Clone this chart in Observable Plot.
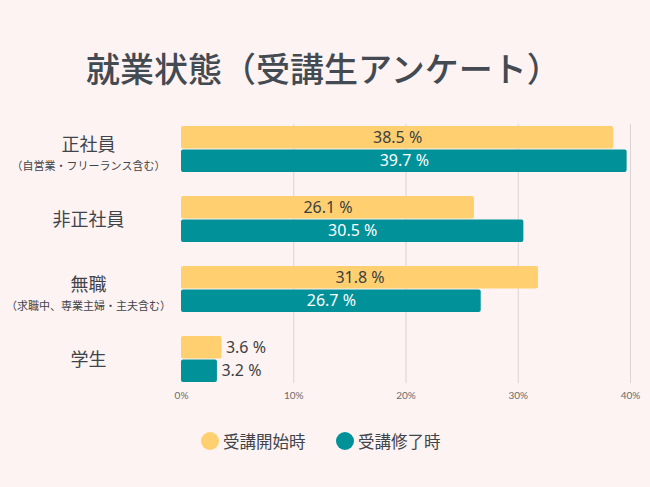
<!DOCTYPE html>
<html><head><meta charset="utf-8">
<script src="https://cdn.jsdelivr.net/npm/d3@7"></script>
<script src="https://cdn.jsdelivr.net/npm/@observablehq/plot@0.6"></script>
<style>
html,body{margin:0;padding:0;background:#fdf3f2;}
#wrap{position:relative;width:650px;height:487px;background:#fdf3f2;overflow:hidden;font-family:"Noto Sans CJK JP","Noto Sans",sans-serif;}
#title{position:absolute;left:86px;top:51px;line-height:34px;font-size:34px;font-weight:500;color:#434a51;white-space:nowrap;}
#chart{position:absolute;left:0;top:0;}
#legend{position:absolute;top:430px;left:0;width:650px;height:22px;}
.li{position:absolute;top:0;display:flex;align-items:center;font-size:16.5px;color:#3f444a;line-height:22px;}
.dot{width:18px;height:18px;border-radius:50%;margin-right:4px;}
g[aria-label="x-axis"] text, g[aria-label="x-axis tick label"] text{font-family:Lato,sans-serif;font-weight:400;font-size:10px;fill:#6a6a6a;}
</style></head>
<body>
<div id="wrap">
  <div id="title">就業状態（受講生アンケート）</div>
  <div id="chart"></div>
  <div id="legend"></div>
</div>
<script>
const categories = ["正社員", "非正社員", "無職", "学生"];
const subLabels = ["（自営業・フリーランス含む）", "", "（求職中、専業主婦・主夫含む）", ""];
const series = ["受講開始時", "受講修了時"];
const startValues = [38.5, 26.1, 31.8, 3.6];
const endValues = [39.7, 30.5, 26.7, 3.2];
const xTicks = [0, 10, 20, 30, 40];
const colors = ["#ffcf70", "#009199"];

const startData = categories.map((c, i) => ({category: c, value: startValues[i], series: series[0]}));
const endData = categories.map((c, i) => ({category: c, value: endValues[i], series: series[1]}));
const catData = categories.map((c, i) => ({category: c, sub: subLabels[i]}));
const withSub = catData.filter(d => d.sub);
const noSub = catData.filter(d => !d.sub);
const fmt = v => v.toFixed(1) + " %";
const valFont = {fontFamily: "Noto Sans, sans-serif", fontSize: 16};
const catFont = {fontFamily: "Noto Sans CJK JP, sans-serif", fill: "#3f444a"};

const half = 23;
const chart = Plot.plot({
  width: 650, height: 487,
  marginTop: 124, marginBottom: 104, marginLeft: 181, marginRight: 20,
  style: {background: "transparent", fontFamily: "Lato, sans-serif", fontSize: "10px"},
  x: {domain: [0, 40], ticks: xTicks, tickFormat: d => d + "%", tickSize: 0, tickPadding: 8, label: null},
  y: {domain: categories, paddingInner: 0.35, paddingOuter: 0, axis: null},
  marks: [
    Plot.ruleX(xTicks.slice(1), {stroke: "#d9d3d3", strokeWidth: 1}),
    Plot.barX(startData, {x: "value", y: "category", fill: colors[0], insetBottom: half + 0.5, rx: 2}),
    Plot.barX(endData, {x: "value", y: "category", fill: colors[1], insetTop: half + 0.5, rx: 2}),
    Plot.text(startData.filter(d => d.value >= 10), {x: d => d.value / 2, y: "category", text: d => fmt(d.value), dy: -11.5, fill: "#3d3f42", ...valFont}),
    Plot.text(endData.filter(d => d.value >= 10), {x: d => d.value / 2, y: "category", text: d => fmt(d.value), dy: 11.5, fill: "#ffffff", ...valFont}),
    Plot.text(startData.filter(d => d.value < 10), {x: "value", y: "category", text: d => fmt(d.value), dy: -11.5, dx: 4, textAnchor: "start", fill: "#3d3f42", ...valFont}),
    Plot.text(endData.filter(d => d.value < 10), {x: "value", y: "category", text: d => fmt(d.value), dy: 11.5, dx: 4, textAnchor: "start", fill: "#3d3f42", ...valFont}),
    Plot.text(withSub, {y: "category", text: "category", frameAnchor: "left", dx: -93, dy: -4, textAnchor: "middle", fontSize: 18, ...catFont}),
    Plot.text(withSub, {y: "category", text: "sub", frameAnchor: "left", dx: -93, dy: 17, textAnchor: "middle", fontSize: 11, ...catFont}),
    Plot.text(noSub, {y: "category", text: "category", frameAnchor: "left", dx: -93, dy: 1, textAnchor: "middle", fontSize: 18, ...catFont})
  ]
});
document.getElementById("chart").appendChild(chart);

const legend = document.getElementById("legend");
const lefts = [201, 336];
series.forEach((s, i) => {
  const el = document.createElement("div");
  el.className = "li";
  el.style.left = lefts[i] + "px";
  el.innerHTML = `<span class="dot" style="background:${colors[i]}"></span><span>${s}</span>`;
  legend.appendChild(el);
});
</script>
</body></html>
